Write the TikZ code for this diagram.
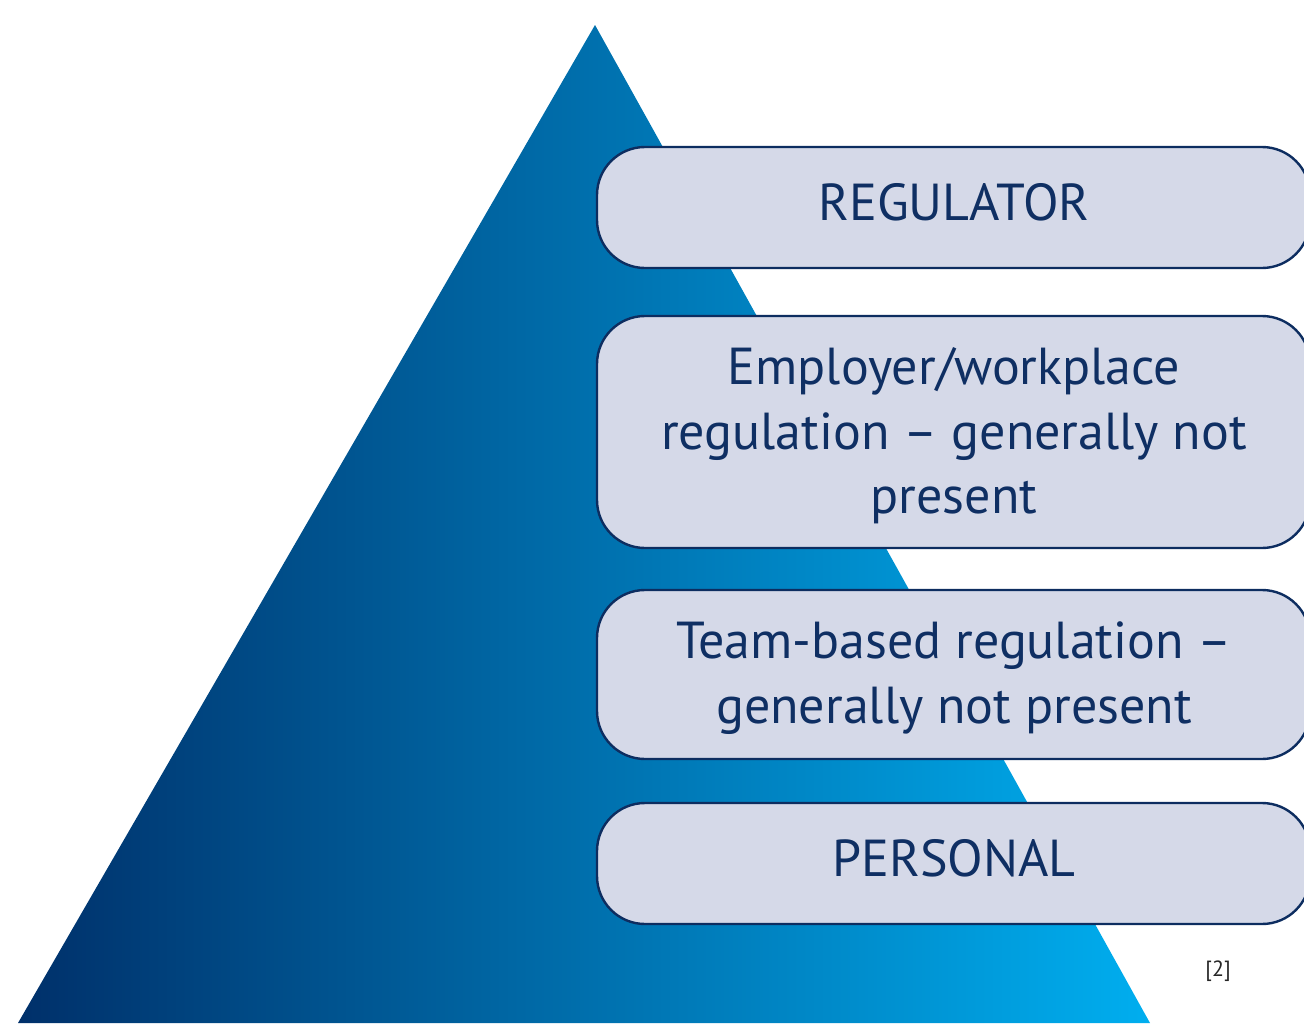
\documentclass[tikz,border=0pt]{standalone}
\usepackage{fontspec}
\setmainfont{PT Sans}
\definecolor{navy}{HTML}{00306A}
\definecolor{cyanblue}{HTML}{00AEEF}
\definecolor{boxfill}{HTML}{D5D9E8}
\definecolor{boxline}{HTML}{0D2D60}
\definecolor{txt}{HTML}{0F2F63}
\begin{document}
\begin{tikzpicture}[x=1pt,y=-1pt,
  tier/.style={draw=boxline, line width=2.4pt, fill=boxfill, rounded corners=48pt},
  tiertext/.style={text=txt, font=\fontsize{52}{64.5}\selectfont, align=center, inner sep=0pt}]
\useasboundingbox (0,0) rectangle (1304,1023);
\begin{scope}
\clip (0,0) rectangle (1304,1023);
\shade[left color=navy, right color=cyanblue] (18,1023) -- (595,25) -- (1150,1023) -- cycle;
\draw[tier] (597,147) rectangle (1310,268);
\draw[tier] (597,316) rectangle (1310,548);
\draw[tier] (597,590) rectangle (1310,759);
\draw[tier] (597,803) rectangle (1310,924);
\end{scope}
\node[tiertext] (reg) at (954,202) {REGULATOR};
\node[tiertext] (emp) at (954,436) {Employer/workplace\\regulation -- generally not\\present};
\node[tiertext] (team) at (954,678) {Team-based regulation --\\generally not present};
\node[tiertext] (pers) at (954,858) {PERSONAL};
\node[text=black!85, font=\fontsize{22}{26}\selectfont, inner sep=0pt] (ref) at (1218,971) {[2]};
\end{tikzpicture}
\end{document}
